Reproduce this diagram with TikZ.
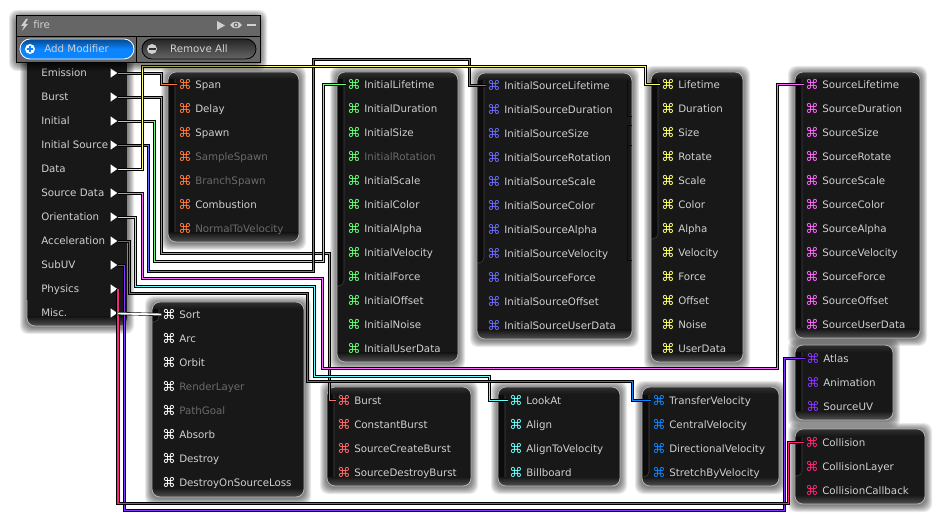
\documentclass[tikz,border=0pt]{standalone}
\usepackage{fontspec}
\setmainfont{DejaVu Sans}
\usetikzlibrary{shapes.geometric,calc}
\definecolor{cOrange}{HTML}{FF7A3C}
\definecolor{cRed}{HTML}{FF6A6A}
\definecolor{cGreen}{HTML}{66FF77}
\definecolor{cBlue}{HTML}{6A6AFF}
\definecolor{cYellow}{HTML}{FFFF66}
\definecolor{cMagenta}{HTML}{FF66FF}
\definecolor{cCyan}{HTML}{66FFFF}
\definecolor{cAzure}{HTML}{0A84FF}
\definecolor{cPurple}{HTML}{8833FF}
\definecolor{cCrimson}{HTML}{FF2277}
\definecolor{tOn}{HTML}{D0D0D0}
\definecolor{tDim}{HTML}{6A6A6A}
\definecolor{pBase}{HTML}{181818}
\definecolor{pEdge}{HTML}{B4B4B4}
\definecolor{pHi}{HTML}{303030}
\definecolor{pLo}{HTML}{505050}
\definecolor{pStrip}{HTML}{0B0B0B}
\definecolor{pLine}{HTML}{444444}
\definecolor{winGrey}{HTML}{666666}
\tikzset{
  modtext/.style={font=\fontsize{7.7pt}{9.6pt}\selectfont,inner sep=0pt,anchor=base west},
  modicon/.style={font=\fontsize{10pt}{11pt}\selectfont,inner sep=0pt},
  menuarrow/.style={isosceles triangle,isosceles triangle apex angle=70,fill=white,inner sep=0pt,minimum height=4.2pt,minimum width=7pt,anchor=center},
  wire/.style={draw=black,line width=0.45pt,double=#1,double distance=1.4pt,line join=miter},
}
\newcommand{\softshadow}[4]{%
  \foreach \r in {7,6,...,1}{\fill[black,opacity=0.085,rounded corners=6pt] (#1-\r,#2-\r+1) rectangle (#3+\r,#4+\r+1);}}
\newcommand{\panelbody}[5]{%
  \softshadow{#1}{#2}{#3}{#4}
  \begin{scope}
    \clip[rounded corners=6pt] (#1,#2) rectangle (#3,#4);
    \fill[pBase] (#1,#2) rectangle (#3,#4);
    \filldraw[fill=pStrip,draw=pLine,line width=0.4pt,rounded corners=4pt] (#1-6,#2-6) -- (#1+7,#2-6) -- (#1+7,#5) -- (#1-6,#5) -- cycle;
    \shade[top color=pHi,bottom color=pBase] (#1,#2) rectangle (#3,#2+7);
    \shade[top color=pBase,bottom color=pLo] (#1,#4-9) rectangle (#3,#4);
  \end{scope}
  \draw[pEdge,line width=0.6pt,rounded corners=6pt] (#1,#2) rectangle (#3,#4);
}
\newcommand{\moditems}[5]{%
  \foreach \t/\c [count=\i from 0] in {#5}{%
    \node[modicon,text=#4] (#1\i) at (#2,{#3+24*\i+0.5}) {⌘};
    \node[modtext,text=\c] (#1t\i) at (#2+10,{#3+24*\i+4.3}) {\t};
  }}
\newcommand{\menuitem}[3]{%
  \node[modtext,text=tOn] (txt#1) at (41,#3+4.3) {#2};
  \node[menuarrow] (arr#1) at (113,#3+1) {};
  \coordinate (out#1) at (118,#3+1.5);
}
\begin{document}
\begin{tikzpicture}[x=0.75pt,y=-0.75pt]
\useasboundingbox (0,0) rectangle (950,520);
\fill[white] (0,0) rectangle (950,520);

% module panels
\panelbody{168}{72}{299}{242}{248}
\panelbody{337}{72}{458}{362}{286}
\panelbody{477}{73}{632}{339}{263}
\panelbody{651}{72}{743}{362}{239}
\panelbody{795}{72}{920}{338}{345}
\panelbody{152}{302}{304}{497}{322}
\panelbody{327}{387}{471}{486}{492}
\panelbody{498}{387}{620}{486}{492}
\panelbody{642}{387}{779}{486}{477}
\panelbody{795}{345}{893}{420}{418}
\panelbody{795}{429}{925}{504}{476}
% scroller marks on the InitialSource panel
\draw[pStrip,line width=0.6pt] (627,80) -- (627,116) -- (631.5,116) (631.5,125.5) -- (627,125.5) -- (627,260) -- (631.5,260) (627,145) -- (631.5,145);

% menu
\softshadow{27}{56}{127}{326}
\begin{scope}
  \clip[rounded corners=6pt] (27,40) rectangle (127,326);
  \fill[pBase] (27,40) rectangle (127,326);
  \shade[top color=pBase,bottom color=pLo] (27,317) rectangle (127,326);
\end{scope}
\draw[pEdge,line width=0.6pt,rounded corners=6pt] (27,300) -- (27,326) -- (127,326);

\moditems{em}{185}{84}{cOrange}{Span/tOn,Delay/tOn,Spawn/tOn,SampleSpawn/tDim,BranchSpawn/tDim,Combustion/tOn,NormalToVelocity/tDim}
\moditems{in}{354}{84}{cGreen}{InitialLifetime/tOn,InitialDuration/tOn,InitialSize/tOn,InitialRotation/tDim,InitialScale/tOn,InitialColor/tOn,InitialAlpha/tOn,InitialVelocity/tOn,InitialForce/tOn,InitialOffset/tOn,InitialNoise/tOn,InitialUserData/tOn}
\moditems{is}{494}{85}{cBlue}{InitialSourceLifetime/tOn,InitialSourceDuration/tOn,InitialSourceSize/tOn,InitialSourceRotation/tOn,InitialSourceScale/tOn,InitialSourceColor/tOn,InitialSourceAlpha/tOn,InitialSourceVelocity/tOn,InitialSourceForce/tOn,InitialSourceOffset/tOn,InitialSourceUserData/tOn}
\moditems{da}{668}{84}{cYellow}{Lifetime/tOn,Duration/tOn,Size/tOn,Rotate/tOn,Scale/tOn,Color/tOn,Alpha/tOn,Velocity/tOn,Force/tOn,Offset/tOn,Noise/tOn,UserData/tOn}
\moditems{sd}{812}{84}{cMagenta}{SourceLifetime/tOn,SourceDuration/tOn,SourceSize/tOn,SourceRotate/tOn,SourceScale/tOn,SourceColor/tOn,SourceAlpha/tOn,SourceVelocity/tOn,SourceForce/tOn,SourceOffset/tOn,SourceUserData/tOn}
\moditems{mi}{169}{314}{white}{Sort/tOn,Arc/tOn,Orbit/tOn,RenderLayer/tDim,PathGoal/tDim,Absorb/tOn,Destroy/tOn,DestroyOnSourceLoss/tOn}
\moditems{bu}{344}{400}{cRed}{Burst/tOn,ConstantBurst/tOn,SourceCreateBurst/tOn,SourceDestroyBurst/tOn}
\moditems{or}{516}{400}{cCyan}{LookAt/tOn,Align/tOn,AlignToVelocity/tOn,Billboard/tOn}
\moditems{ac}{659}{400}{cAzure}{TransferVelocity/tOn,CentralVelocity/tOn,DirectionalVelocity/tOn,StretchByVelocity/tOn}
\moditems{uv}{813}{358}{cPurple}{Atlas/tOn,Animation/tOn,SourceUV/tOn}
\moditems{ph}{812}{442}{cCrimson}{Collision/tOn,CollisionLayer/tOn,CollisionCallback/tOn}

\menuitem{Em}{Emission}{72}
\menuitem{Bu}{Burst}{96}
\menuitem{In}{Initial}{120}
\menuitem{Is}{Initial Source}{144}
\menuitem{Da}{Data}{168}
\menuitem{Sd}{Source Data}{192}
\menuitem{Or}{Orientation}{216}
\menuitem{Ac}{Acceleration}{240}
\menuitem{Uv}{SubUV}{264}
\menuitem{Ph}{Physics}{288}
\menuitem{Mi}{Misc.}{312}

% wires
\draw[wire=cOrange] (outEm) -| (161.5,84) |- ([xshift=-0.5pt]em0.west);
\draw[wire=cRed] (outBu) -| (161.5,253.5) -- (329.5,253.5) |- ([xshift=-0.5pt]bu0.west);
\draw[wire=cGreen] (outIn) -| (154.5,261.5) -- (323.5,261.5) |- ([xshift=-0.5pt]in0.west);
\draw[wire=cBlue] (outIs) -| (148.5,271.5) -- (313.5,271.5) -- (313.5,59.5) -- (469.5,59.5) |- ([xshift=-0.5pt]is0.west);
\draw[wire=cYellow] (outDa) -| (142.5,66.5) -- (645.5,66.5) |- ([xshift=-0.5pt]da0.west);
\draw[wire=cMagenta] (outSd) -| (142.5,278.5) -- (322.5,278.5) -- (322.5,368.5) -- (777.5,368.5) |- ([xshift=-0.5pt]sd0.west);
\draw[wire=cCyan] (outOr) -| (135.5,286.5) -- (314.5,286.5) -- (314.5,376.5) -- (489.5,376.5) |- ([xshift=-0.5pt]or0.west);
\draw[wire=cAzure] (outAc) -| (129.5,293.5) -- (307.5,293.5) -- (307.5,381.5) -- (632.5,381.5) |- ([xshift=-0.5pt]ac0.west);
\draw[wire=cPurple] (outUv) -| (124.5,510.5) -- (784.5,510.5) |- ([xshift=-0.5pt]uv0.west);
\draw[wire=cCrimson] (outPh) -- (118,503.5) -- (788.5,503.5) |- ([xshift=-0.5pt]ph0.west);
\draw[wire=white] (outMi) -- ([xshift=-0.5pt]mi0.west);

% window
\softshadow{16}{16}{260}{63}
\fill[winGrey] (16,16) rectangle (260,63);
\draw[black,line width=0.75pt] (16,16) rectangle (260,63);
\draw[black,line width=0.6pt] (16,36) -- (260,36) (136,36) -- (136,63);
\fill[tOn] (26,19) -- (21,26) -- (24,26) -- (22,31) -- (28,24) -- (25,24) -- (28,19) -- cycle;
\node[modtext,text=tOn] (title) at (33,28.5) {fire};
\fill[tOn] (217,21) -- (225,25.5) -- (217,30) -- cycle;
\fill[tOn] (230,25) .. controls (233,20.5) and (239,20.5) .. (242,25) .. controls (239,29.5) and (233,29.5) .. (230,25) -- cycle;
\fill[winGrey] (236,25) circle[radius=2.4];
\fill[tOn] (236,25) circle[radius=1.4];
\fill[tOn] (247,24.5) rectangle (256,26);
% buttons
\shade[top color=cAzure!55!black,bottom color=cAzure,middle color=cAzure,draw=white,line width=0.6pt,rounded corners=7.5pt] (20,39) rectangle (134,59);
\fill[white] (30,49) circle[radius=5];
\fill[cAzure] (26.8,48.2) rectangle (33.2,49.8) (29.2,45.8) rectangle (30.8,52.2);
\node[modtext,text=tOn] (addmod) at (44,52.5) {Add Modifier};
\shade[top color=black!85,bottom color=black!60,draw=black,line width=0.6pt,rounded corners=7.5pt] (142,39) rectangle (256,59);
\fill[tOn] (152,49) circle[radius=5];
\fill[black!80] (148.5,48) rectangle (155.5,50);
\node[modtext,text=tOn,anchor=base] (remall) at (199,52.5) {Remove All};
\end{tikzpicture}
\end{document}
